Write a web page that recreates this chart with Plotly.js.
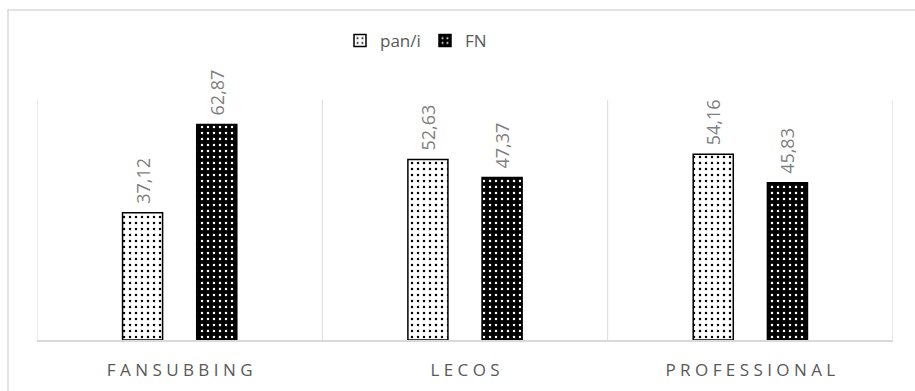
<!DOCTYPE html>
<html><head><meta charset="utf-8">
<script src="https://cdn.plot.ly/plotly-3.0.1.min.js"></script>
<style>html,body{margin:0;padding:0;background:#fff;}#chart{width:915px;height:391px;}</style>
</head><body><div id="chart"></div>
<script>
const categories = ["FANSUBBING", "LECOS", "PROFESSIONAL"];
const panI = [37.12, 52.63, 54.16];
const fn = [62.87, 47.37, 45.83];
const seriesNames = ["pan/i", "FN"];

function spaced(s){ return s.split("").join(" "); }
const tickText = categories.map(spaced);

const labelFont = {family: "Open Sans, sans-serif", size: 18, color: "#7f7f7f"};

const traces = [
  {type:"bar", name: seriesNames[0], x: categories, y: panI,
   texttemplate: "\u2004%{y:.2f}", textposition: "outside", textangle: -90, cliponaxis:false,
   textfont: labelFont, constraintext:"none",
   marker: {color:"#ffffff", line:{color:"#000", width:1.5},
     pattern:{shape:".", fgcolor:"#000", bgcolor:"#fff", size:6, solidity:0.14, fillmode:"replace"}}},
  {type:"bar", name: seriesNames[1], x: categories, y: fn,
   texttemplate: "\u2004%{y:.2f}", textposition: "outside", textangle: -90, cliponaxis:false,
   textfont: labelFont, constraintext:"none",
   marker: {color:"#000000", line:{color:"#000", width:1.5},
     pattern:{shape:".", fgcolor:"#fff", bgcolor:"#000", size:6, solidity:0.14, fillmode:"replace"}}}
];

const shapes = [-0.5, 0.5, 1.5, 2.5].map(v => ({type:"line", xref:"x", yref:"y", x0:v, x1:v, y0:0, y1:70, line:{color:"#d9d9d9", width:1}}));
shapes.push({type:"rect", xref:"paper", yref:"paper", x0:(8-37)/856, x1:1.2, y0:-0.4, y1:1+90/240, line:{color:"#d9d9d9", width:1.5}, fillcolor:"rgba(0,0,0,0)", layer:"below"});

const layout = {
  width:915, height:391,
  margin:{l:37, r:22, t:100, b:51, pad:0},
  paper_bgcolor:"#fff", plot_bgcolor:"#fff",
  separators: ",.",
  barmode:"group", bargap:0.48, bargroupgap:0.46,
  showlegend:true,
  legend:{orientation:"h", x:0.5 - 40/856, xanchor:"center", y:(340-41)/240, yanchor:"middle",
    entrywidth:40, entrywidthmode:"pixels",
    font:{family:"Open Sans, sans-serif", size:17, color:"#595959"}, itemwidth:30, tracegroupgap:0},
  xaxis:{type:"category", range:[-0.5,2.5], tickvals:categories, ticktext:tickText, showgrid:false, showline:true, linecolor:"#d9d9d9", linewidth:1.5,
    ticks:"", ticklen:0, ticklabelstandoff:14, tickfont:{family:"Open Sans, sans-serif", size:17, color:"#595959"}, fixedrange:true},
  yaxis:{range:[0,70], showgrid:false, zeroline:false, showticklabels:false, showline:false, ticks:"", fixedrange:true},
  shapes: shapes
};

Plotly.newPlot("chart", traces, layout, {displayModeBar:false, staticPlot:true});
</script></body></html>
